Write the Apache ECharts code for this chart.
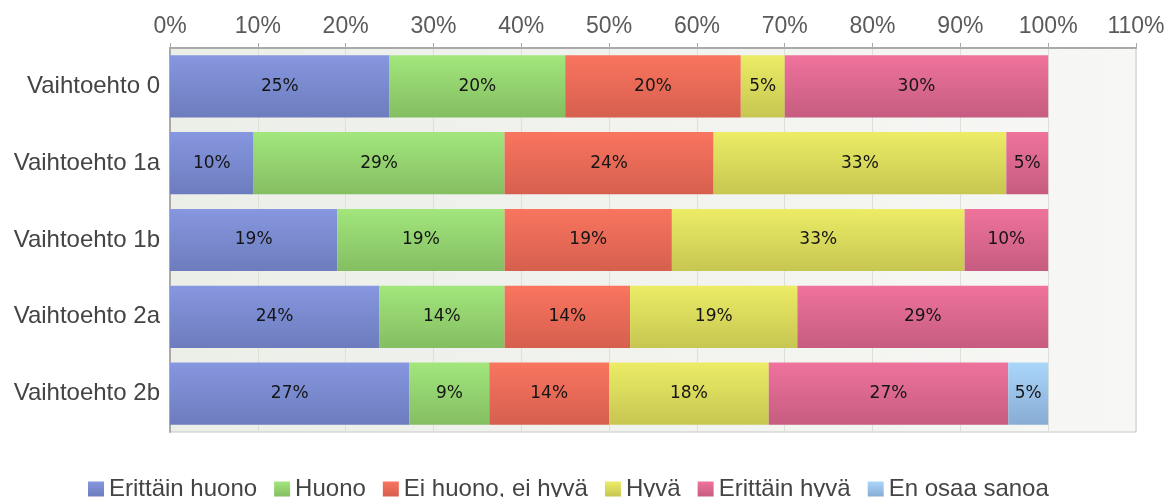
<!DOCTYPE html>
<html><head><meta charset="utf-8">
<script src="https://cdn.jsdelivr.net/npm/echarts@6/dist/echarts.min.js"></script>
<style>html,body{margin:0;padding:0;background:#fff}#c{width:1170px;height:497px}</style>
</head><body><div id="c"></div>
<script>
var categories = ['Vaihtoehto 0','Vaihtoehto 1a','Vaihtoehto 1b','Vaihtoehto 2a','Vaihtoehto 2b'];
var seriesNames = ['Erittäin huono','Huono','Ei huono, ei hyvä','Hyvä','Erittäin hyvä','En osaa sanoa'];
var erittainHuono = [25, 9.52, 19.05, 23.81, 27.27];
var huono         = [20, 28.57, 19.05, 14.29, 9.09];
var eiHuonoEiHyva = [20, 23.81, 19.05, 14.29, 13.64];
var hyva          = [5, 33.33, 33.33, 19.05, 18.18];
var erittainHyva  = [30, 4.77, 9.52, 28.56, 27.27];
var enOsaaSanoa   = [0, 0, 0, 0, 4.55];
var tickLabels = ['0%','10%','20%','30%','40%','50%','60%','70%','80%','90%','100%','110%'];

var colors = [
  ['#8797e0','#6c7cbd'],
  ['#a2e67c','#84be62'],
  ['#f9755f','#d65f4e'],
  ['#ecec66','#c6c652'],
  ['#ef739c','#c65c80'],
  ['#aad6fa','#88acd4']
];
var dataSets = [erittainHuono, huono, eiHuonoEiHyva, hyva, erittainHyva, enOsaaSanoa];

var chart = echarts.init(document.getElementById('c'), null, {renderer:'canvas'});
var series = dataSets.map(function(d, i){
  return {
    name: seriesNames[i], type: 'bar', stack: 'all', barCategoryGap: '19%',
    data: d.map(function(v){ return v > 0 ? v : null; }),
    itemStyle: { color: new echarts.graphic.LinearGradient(0,0,0,1,[{offset:0,color:colors[i][0]},{offset:1,color:colors[i][1]}]) },
    label: { show: true, position: 'inside', color: '#151515', fontFamily: 'DejaVu Sans', fontSize: 17,
      formatter: function(p){ return Math.round(p.value) + '%'; } },
    emphasis: { disabled: true },
    animation: false
  };
});
chart.setOption({
  animation: false,
  grid: { left: 170, right: 34, top: 48, bottom: 65, containLabel: false,
    show: true, borderColor: '#c8c8c8', borderWidth: 1,
    backgroundColor: new echarts.graphic.LinearGradient(0,0,1,0,[{offset:0,color:'#eceee8'},{offset:1,color:'#f7f8f5'}]) },
  legend: { bottom: -9, left: 83, itemWidth: 16, itemHeight: 15, itemGap: 17, icon: 'rect',
    textStyle: { fontFamily: 'Liberation Sans', fontSize: 24, color: '#444' },
    data: seriesNames },
  xAxis: { type: 'value', position: 'top', min: 0, max: 110, interval: 10,
    axisLine: { show: true, lineStyle: { color: '#aaa', width: 2 } },
    axisTick: { show: true, length: 5, lineStyle: { color: '#aaa' } },
    splitLine: { show: true, lineStyle: { color: '#dddfd9' } },
    axisLabel: { fontFamily: 'Liberation Sans', fontSize: 23, color: '#5a5a5a', margin: 10,
      formatter: function(v){ return tickLabels[Math.round(v/10)]; } } },
  yAxis: { type: 'category', inverse: true, data: categories,
    axisLine: { show: true, lineStyle: { color: '#aaa', width: 2 } },
    axisTick: { show: false },
    axisLabel: { fontFamily: 'Liberation Sans', fontSize: 24, color: '#444', margin: 10 } },
  series: series
});
</script></body></html>
